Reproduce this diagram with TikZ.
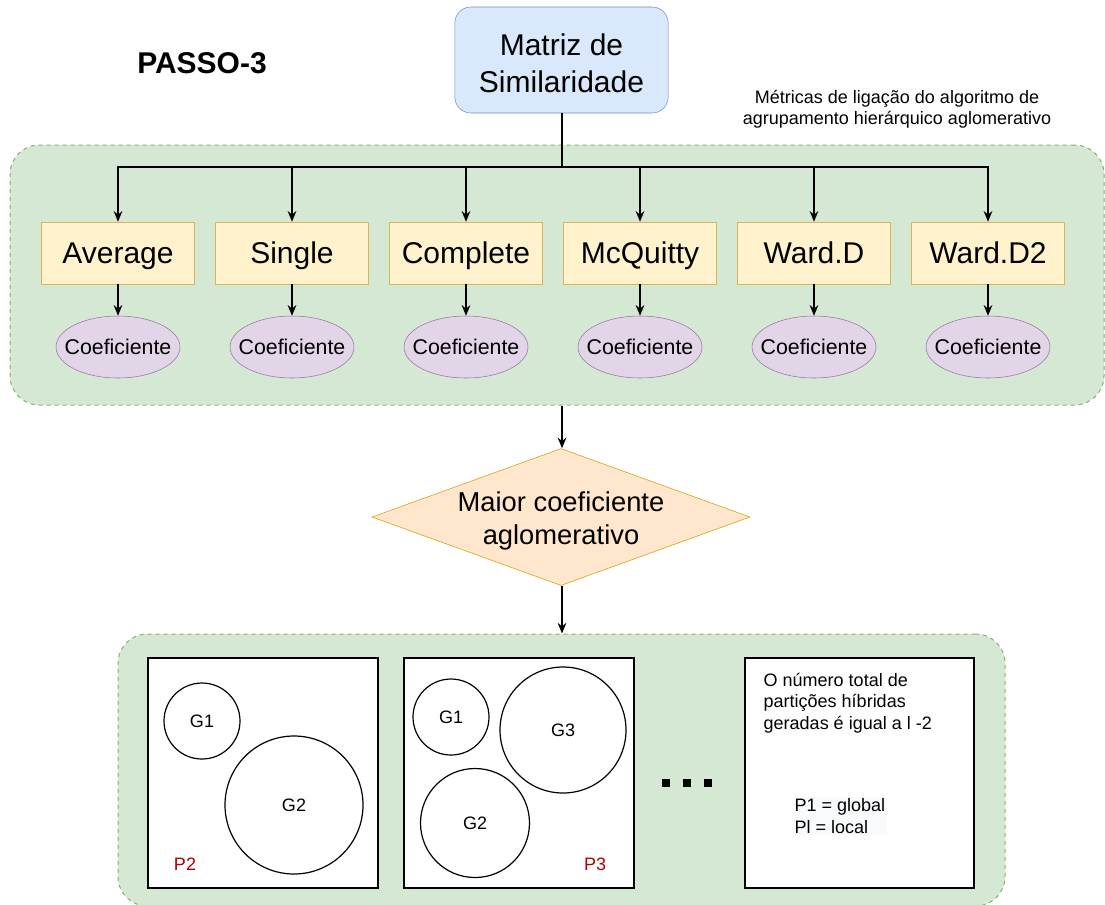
\documentclass[tikz,border=0pt]{standalone}
\usepackage{fontspec}
\setmainfont{Liberation Sans}
\usetikzlibrary{shapes.geometric,arrows.meta}
\definecolor{azulfundo}{HTML}{DAE8FC}
\definecolor{azulborda}{HTML}{6C8EBF}
\definecolor{verdefundo}{HTML}{D5E8D4}
\definecolor{verdeborda}{HTML}{82B366}
\definecolor{amarelofundo}{HTML}{FFF2CC}
\definecolor{amareloborda}{HTML}{D6B656}
\definecolor{roxofundo}{HTML}{E1D5E7}
\definecolor{roxoborda}{HTML}{9673A6}
\definecolor{laranjafundo}{HTML}{FFE6CC}
\definecolor{laranjaborda}{HTML}{D79B00}
\definecolor{vermelho}{HTML}{B20000}
\definecolor{cinzafundo}{HTML}{F9FAFB}
\begin{document}
\begin{tikzpicture}[
    x=0.75pt, y=-0.75pt,
    >={Stealth[length=8pt,width=6.5pt]},
    grupo/.style={rectangle, draw=verdeborda, fill=verdefundo, dash pattern=on 3pt off 3pt, rounded corners=22pt, line width=0.75pt},
    metrica/.style={rectangle, draw=amareloborda, fill=amarelofundo, minimum width=114.75pt, minimum height=46.5pt, text height=16.1pt, text depth=0pt, font=\fontsize{22.5}{27}\selectfont},
    coef/.style={ellipse, draw=roxoborda, fill=roxofundo, minimum width=93pt, minimum height=46.5pt, inner sep=0pt},
    particao/.style={rectangle, draw, line width=1pt, fill=white, minimum width=172.5pt, minimum height=172.5pt},
    gcirc/.style={circle, draw, line width=0.9pt, fill=white, inner sep=0pt, font=\fontsize{13.5}{16}\selectfont},
    ponto/.style={rectangle, fill=black, minimum size=6pt, inner sep=0pt},
    seta/.style={->, line width=1.1pt}
]
\useasboundingbox (0,0) rectangle (1105,904);

% Grupos
\node[grupo, minimum width=820.5pt, minimum height=195pt] (grupo1) at (557,275) {};
\node[grupo, minimum width=665.25pt, minimum height=204pt] (grupo2) at (561.5,770) {};

% Matriz
\node[font=\bfseries\fontsize{22.5}{27}\selectfont] (passo) at (202,63) {PASSO-3};
\node[draw=azulborda, fill=azulfundo, rounded corners=12pt, minimum width=160pt, minimum height=79.5pt] (matriz) at (561.5,60) {};
\node[align=center, font=\fontsize{22.5}{27.75}\selectfont] (matriztxt) at (561.5,63) {Matriz de\\Similaridade};
\node[align=center, font=\fontsize{13.5}{16}\selectfont] (nota) at (897,109) {Métricas de ligação do algoritmo de\\agrupamento hierárquico aglomerativo};
\coordinate (barra) at (562,167);

% Metricas
\foreach \nome [count=\i from 0] in {Average,Single,Complete,McQuitty,Ward.D,Ward.D2} {
    \node[metrica] (m\i) at (118+\i*174, 253) {\nome};
    \node[coef] (c\i) at (118+\i*174, 347) {};
    \node[font=\fontsize{16}{19}\selectfont] (ct\i) at (c\i) {Coeficiente};
    \draw[seta] (matriz.south -| barra) -- (barra) -| (m\i.north);
    \draw[seta] (m\i) -- (c\i);
}

% Decisao
\node[diamond, draw=laranjaborda, fill=laranjafundo, minimum width=283.5pt, minimum height=102.75pt, inner sep=0pt] (losango) at (561,517) {};
\node[align=center, font=\fontsize{20.5}{24.75}\selectfont] (maior) at (561,521) {Maior coeficiente\\aglomerativo};
\draw[seta] (grupo1.south -| barra) -- (losango.north -| barra);
\draw[seta] (losango.south -| barra) -- (grupo2.north -| barra);

% Particoes
\node[particao] (p2) at (263,773) {};
\node[gcirc, minimum size=57pt] (p2g1) at (202,721) {G1};
\node[gcirc, minimum size=103.5pt] (p2g2) at (294,805) {G2};
\node[text=vermelho, font=\fontsize{13.5}{16}\selectfont] (p2rot) at (185,864) {P2};

\node[particao] (p3) at (519,773) {};
\node[gcirc, minimum size=57pt] (p3g1) at (451,717) {G1};
\node[gcirc, minimum size=94.5pt] (p3g3) at (563,730) {G3};
\node[gcirc, minimum size=81.75pt] (p3g2) at (475,823) {G2};
\node[text=vermelho, font=\fontsize{13.5}{16}\selectfont] (p3rot) at (595,864) {P3};

\foreach \i in {0,1,2} {
    \node[ponto] (d\i) at (666+\i*21, 783) {};
}

\node[particao, minimum width=171.75pt] (pl) at (859.5,773) {};
\node[anchor=west, align=left, font=\fontsize{13.5}{16}\selectfont] (texto) at (759,703) {O número total de\\partições híbridas\\geradas é igual a l -2};
\node[anchor=west, align=left, fill=cinzafundo, inner sep=1pt, font=\fontsize{13.5}{16}\selectfont] (global) at (793,816) {P1 = global\\Pl = local};
\end{tikzpicture}
\end{document}
